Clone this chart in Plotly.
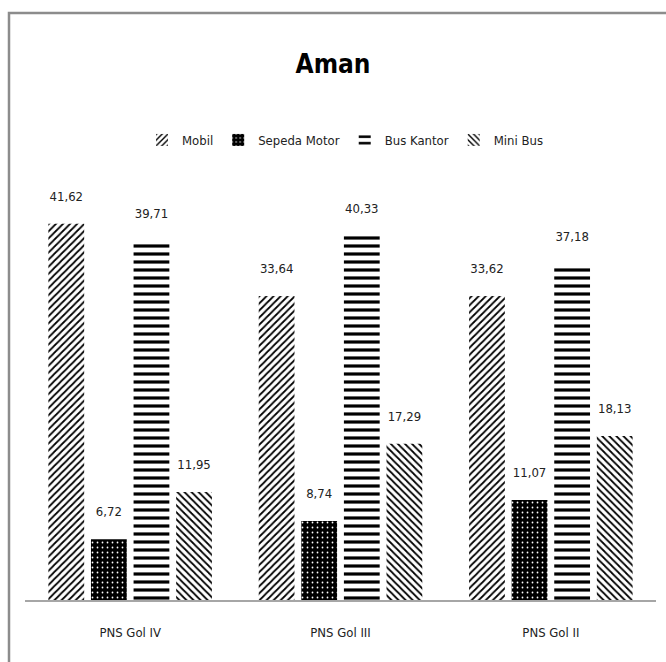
import plotly.graph_objects as go

categories = ["PNS Gol IV", "PNS Gol III", "PNS Gol II"]
series_names = ["Mobil", "Sepeda Motor", "Bus Kantor", "Mini Bus"]
mobil = [41.62, 33.64, 33.62]
sepeda_motor = [6.72, 8.74, 11.07]
bus_kantor = [39.71, 40.33, 37.18]
mini_bus = [11.95, 17.29, 18.13]

values = [mobil, sepeda_motor, bus_kantor, mini_bus]
patterns = [
    dict(shape="/", size=5, solidity=0.35, fgcolor="#000000", bgcolor="#ffffff", fillmode="replace"),
    dict(shape=".", size=5, solidity=0.1, fgcolor="#ffffff", bgcolor="#000000", fillmode="replace"),
    dict(shape="-", size=8, solidity=0.4, fgcolor="#000000", bgcolor="#ffffff", fillmode="replace"),
    dict(shape="\\", size=5, solidity=0.35, fgcolor="#000000", bgcolor="#ffffff", fillmode="replace"),
]

FONT = "DejaVu Sans Condensed, Liberation Sans Narrow, Arial Narrow, sans-serif"

fig = go.Figure()
for name, vals, pat in zip(series_names, values, patterns):
    fig.add_trace(go.Bar(
        name=name,
        x=categories,
        y=vals,
        marker=dict(color="#ffffff", line=dict(width=0), pattern=pat),
        texttemplate="%{y:.2f}<br> ",
        textposition="outside",
        constraintext="none",
        textfont=dict(family=FONT, size=13, color="#222222"),
        cliponaxis=False,
    ))

W, H = 666, 662
ml, mr, mt, mb = 25, 10, 170, 62
pw, ph = W - ml - mr, H - mt - mb

fig.update_layout(
    width=W, height=H,
    margin=dict(l=ml, r=mr, t=mt, b=mb, pad=0),
    paper_bgcolor="#ffffff",
    plot_bgcolor="#ffffff",
    separators=",.",
    barmode="group",
    bargap=0.19,
    bargroupgap=0.16,
    font=dict(family=FONT, size=13, color="#222222"),
    title=dict(text="<b>Aman</b>", x=0.5, xanchor="center", y=1 - 64 / H, yanchor="middle",
               yref="container", font=dict(family=FONT, size=26, color="#000000")),
    legend=dict(orientation="h", x=(345 - ml) / pw, xanchor="center", y=1 + 30 / ph, yanchor="middle",
                font=dict(family=FONT, size=13, color="#222222"), itemwidth=30, tracegroupgap=0,
                bgcolor="rgba(0,0,0,0)"),
    showlegend=True,
    xaxis=dict(showline=True, linecolor="#a6a6a6", linewidth=1.5, ticks="", showgrid=False,
               tickfont=dict(family=FONT, size=13, color="#222222"), ticklabelstandoff=20),
    yaxis=dict(range=[0, ph / 9.04], visible=False, showgrid=False, zeroline=False),
    shapes=[dict(type="rect", xref="paper", yref="paper",
                 x0=(9 - ml) / pw, x1=(668 - ml) / pw,
                 y0=-(670 - (H - mb)) / ph, y1=((H - mb) - 13) / ph,
                 line=dict(color="#8c8c8c", width=2.5), fillcolor="rgba(0,0,0,0)", layer="below")],
)

fig.write_html("out.html",
               config={"displayModeBar": False},
               post_script="document.body.style.margin='0';document.body.style.overflow='hidden';")
